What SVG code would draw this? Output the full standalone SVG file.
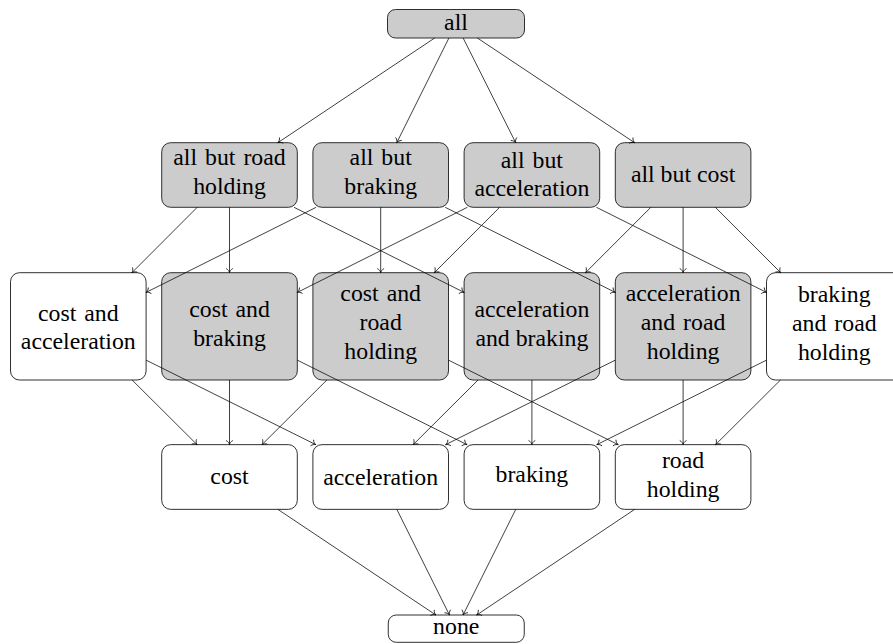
<svg xmlns="http://www.w3.org/2000/svg" width="893" height="644" viewBox="0 0 893 644" font-family="Liberation Serif, serif">
<style>
.box{stroke:#1a1a1a;stroke-width:0.9}
.g{fill:#cccccc}
.w{fill:#ffffff}
text{font-size:23.8px;text-anchor:middle;fill:#000}
.ws{word-spacing:2px}
.e{fill:none;stroke:#000;stroke-width:0.75;marker-end:url(#arr)}
</style>
<defs>
<marker id="arr" markerUnits="userSpaceOnUse" markerWidth="10" markerHeight="10" viewBox="-6 -5 8 10" refX="0" refY="0" orient="auto" overflow="visible">
<path d="M-4.2,-3.4 C-3.2,-1.4 -1.4,-0.35 0,0 C-1.4,0.35 -3.2,1.4 -4.2,3.4" fill="none" stroke="#000" stroke-width="0.75"/>
</marker>
</defs>
<rect width="893" height="644" fill="#ffffff"/>

<g id="n-all"><rect class="box g" x="387.5" y="9.5" width="137" height="28.5" rx="8"/><text x="456" y="30">all</text></g>

<g id="n-abr"><rect class="box g" x="161.7" y="142.7" width="135.6" height="64.6" rx="9"/><text class="ws" x="229.5" y="164.5">all but road</text><text x="229.5" y="193.5">holding</text></g>
<g id="n-abb"><rect class="box g" x="312.9" y="142.7" width="135.6" height="64.6" rx="9"/><text class="ws" x="380.7" y="164.5">all but</text><text x="380.7" y="193.5">braking</text></g>
<g id="n-aba"><rect class="box g" x="464.1" y="142.7" width="135.6" height="64.6" rx="9"/><text class="ws" x="531.9" y="167.5">all but</text><text x="531.9" y="196">acceleration</text></g>
<g id="n-abc"><rect class="box g" x="615.3" y="142.7" width="135.6" height="64.6" rx="9"/><text x="683.1" y="181.5">all but cost</text></g>

<g id="n-ca"><rect class="box w" x="10.5" y="272.7" width="135.6" height="107.3" rx="9"/><text class="ws" x="78.3" y="320.5">cost and</text><text x="78.3" y="349">acceleration</text></g>
<g id="n-cb"><rect class="box g" x="161.7" y="272.7" width="135.6" height="107.3" rx="9"/><text class="ws" x="229.5" y="317">cost and</text><text x="229.5" y="346">braking</text></g>
<g id="n-cr"><rect class="box g" x="312.9" y="272.7" width="135.6" height="107.3" rx="9"/><text class="ws" x="380.7" y="301">cost and</text><text x="380.7" y="330">road</text><text x="380.7" y="359">holding</text></g>
<g id="n-ab"><rect class="box g" x="464.1" y="272.7" width="135.6" height="107.3" rx="9"/><text x="531.9" y="316.5">acceleration</text><text x="531.9" y="345.5">and braking</text></g>
<g id="n-ar"><rect class="box g" x="615.3" y="272.7" width="135.6" height="107.3" rx="9"/><text x="683.1" y="301">acceleration</text><text class="ws" x="683.1" y="330">and road</text><text x="683.1" y="359">holding</text></g>
<g id="n-br"><rect class="box w" x="766.5" y="272.7" width="135.6" height="107.3" rx="9"/><text x="834.3" y="301.5">braking</text><text class="ws" x="834.3" y="330.5">and road</text><text x="834.3" y="359.5">holding</text></g>

<g id="n-c"><rect class="box w" x="161.7" y="444.65" width="135.6" height="64.7" rx="9"/><text x="229.5" y="483.5">cost</text></g>
<g id="n-a"><rect class="box w" x="312.9" y="444.65" width="135.6" height="64.7" rx="9"/><text x="380.7" y="484.5">acceleration</text></g>
<g id="n-b"><rect class="box w" x="464.1" y="444.65" width="135.6" height="64.7" rx="9"/><text x="531.9" y="482">braking</text></g>
<g id="n-r"><rect class="box w" x="615.3" y="444.65" width="135.6" height="64.7" rx="9"/><text x="683.1" y="467.5">road</text><text x="683.1" y="496.5">holding</text></g>

<g id="n-none"><rect class="box w" x="388.25" y="615" width="136" height="27.3" rx="8"/><text x="456.25" y="634">none</text></g>

<g id="connectors">
<line class="e" x1="434.66" y1="38" x2="277.87" y2="142.7"/>
<line class="e" x1="448.91" y1="38" x2="396.78" y2="142.7"/>
<line class="e" x1="463.15" y1="38" x2="515.69" y2="142.7"/>
<line class="e" x1="477.39" y1="38" x2="634.59" y2="142.7"/>

<line class="e" x1="197.23" y1="207.3" x2="131.9" y2="272.7"/>
<line class="e" x1="229.5" y1="207.3" x2="229.5" y2="272.7"/>
<line class="e" x1="294.03" y1="207.3" x2="464.1" y2="292.42"/>
<line class="e" x1="316.17" y1="207.3" x2="146.1" y2="292.42"/>
<line class="e" x1="380.7" y1="207.3" x2="380.7" y2="272.7"/>
<line class="e" x1="445.23" y1="207.3" x2="615.3" y2="292.42"/>
<line class="e" x1="467.37" y1="207.3" x2="297.3" y2="292.42"/>
<line class="e" x1="499.63" y1="207.3" x2="434.3" y2="272.7"/>
<line class="e" x1="596.43" y1="207.3" x2="766.5" y2="292.42"/>
<line class="e" x1="650.83" y1="207.3" x2="585.5" y2="272.7"/>
<line class="e" x1="683.1" y1="207.3" x2="683.1" y2="272.7"/>
<line class="e" x1="715.37" y1="207.3" x2="780.7" y2="272.7"/>

<line class="e" x1="132.14" y1="380" x2="197.04" y2="444.65"/>
<line class="e" x1="146.1" y1="360.13" x2="315.77" y2="444.65"/>
<line class="e" x1="229.5" y1="380" x2="229.5" y2="444.65"/>
<line class="e" x1="297.3" y1="360.13" x2="466.97" y2="444.65"/>
<line class="e" x1="326.86" y1="380" x2="261.96" y2="444.65"/>
<line class="e" x1="448.5" y1="360.13" x2="618.17" y2="444.65"/>
<line class="e" x1="478.06" y1="380" x2="413.16" y2="444.65"/>
<line class="e" x1="531.9" y1="380" x2="531.9" y2="444.65"/>
<line class="e" x1="615.3" y1="360.13" x2="445.63" y2="444.65"/>
<line class="e" x1="683.1" y1="380" x2="683.1" y2="444.65"/>
<line class="e" x1="766.5" y1="360.13" x2="596.83" y2="444.65"/>
<line class="e" x1="780.46" y1="380" x2="715.56" y2="444.65"/>

<line class="e" x1="277.87" y1="509.35" x2="435.84" y2="615"/>
<line class="e" x1="396.82" y1="509.35" x2="449.45" y2="615"/>
<line class="e" x1="515.76" y1="509.35" x2="463.06" y2="615"/>
<line class="e" x1="634.71" y1="509.35" x2="476.67" y2="615"/>
</g>
</svg>
